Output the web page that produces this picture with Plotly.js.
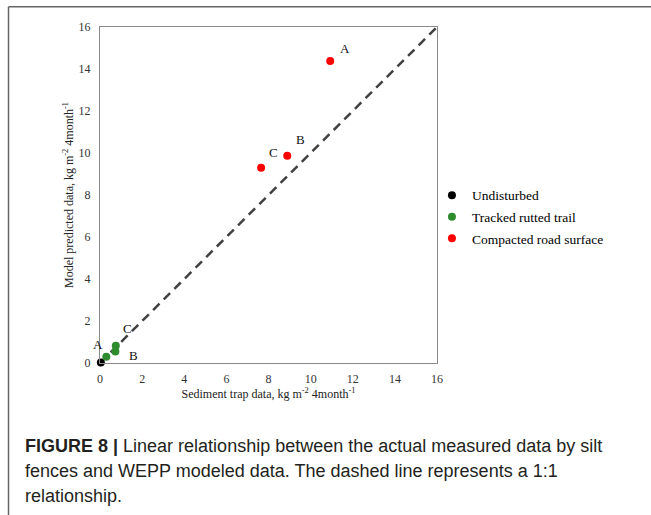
<!DOCTYPE html>
<html>
<head>
<meta charset="utf-8">
<script src="https://cdn.plot.ly/plotly-3.0.1.min.js"></script>
<style>
  html, body { margin: 0; padding: 0; background: #ffffff; }
  #chart { width: 651px; height: 515px; }
</style>
</head>
<body>
<div id="chart"></div>
<script>
// ---- data ----
const seriesNames = ["Undisturbed", "Tracked rutted trail", "Compacted road surface"];

const undisturbedX = [0.04];
const undisturbedY = [0.02];

const trailX = [0.30, 0.73, 0.75];
const trailY = [0.30, 0.55, 0.82];
const trailLabels = ["A", "B", "C"];

const roadX = [10.93, 8.89, 7.65];
const roadY = [14.38, 9.87, 9.30];
const roadLabels = ["A", "B", "C"];

const oneToOneX = [0, 16];
const oneToOneY = [0, 16];

const xTickVals = [0, 2, 4, 6, 8, 10, 12, 14, 16];
const yTickVals = [0, 2, 4, 6, 8, 10, 12, 14, 16];

const xTitle = "Sediment trap data, kg m<sup>-2</sup> 4month<sup>-1</sup>";
const yTitle = "Model predicted data, kg m<sup>-2</sup> 4month<sup>-1</sup>";

const captionLines = [
  "<b>FIGURE 8 |</b> Linear relationship between the actual measured data by silt",
  "fences and WEPP modeled data. The dashed line represents a 1:1",
  "relationship."
];

// ---- styling / positioning (not data) ----
const serif = "Liberation Serif, Times New Roman, serif";
const sans = "Liberation Sans, Arial, Helvetica, sans-serif";
const trailLabelShift = [[-8, 12], [18, -4], [12, 17]];
const roadLabelShift = [[15, 13], [13, 16], [12, 15]];

const traces = [
  {
    x: oneToOneX, y: oneToOneY, type: "scatter", mode: "lines",
    line: { color: "#404040", width: 2.5, dash: "9px,6px" },
    showlegend: false, hoverinfo: "skip"
  },
  {
    x: undisturbedX, y: undisturbedY, type: "scatter", mode: "markers",
    name: seriesNames[0], legendgroup: "g1",
    marker: { color: "#000000", size: 8 }, cliponaxis: false
  },
  {
    x: trailX, y: trailY, type: "scatter", mode: "markers",
    name: seriesNames[1], legendgroup: "g2",
    marker: { color: "#2e8b2e", size: 8 }, cliponaxis: false
  },
  {
    x: roadX, y: roadY, type: "scatter", mode: "markers",
    name: seriesNames[2], legendgroup: "g3",
    marker: { color: "#ff0000", size: 8 }, cliponaxis: false
  }
];

const annotations = [];
trailLabels.forEach((t, i) => annotations.push({
  x: trailX[i], y: trailY[i], xref: "x", yref: "y", text: t, showarrow: false,
  xshift: trailLabelShift[i][0], yshift: trailLabelShift[i][1],
  font: { family: serif, size: 13, color: "#111" }
}));
roadLabels.forEach((t, i) => annotations.push({
  x: roadX[i], y: roadY[i], xref: "x", yref: "y", text: t, showarrow: false,
  xshift: roadLabelShift[i][0], yshift: roadLabelShift[i][1],
  font: { family: serif, size: 13, color: "#111" }
}));
const captionY = [-0.247, -0.3229, -0.3958];
captionLines.forEach((t, i) => annotations.push({
  x: -0.2226, y: captionY[i], xref: "paper", yref: "paper", text: t,
  showarrow: false, xanchor: "left", yanchor: "middle", align: "left", xshift: -2,
  font: { family: sans, size: 18, color: "#231f20" }
}));

const axisCommon = {
  range: [0, 16], showgrid: false, zeroline: false,
  showline: true, linecolor: "#8a8a8a", linewidth: 1, mirror: true,
  ticks: "", fixedrange: true,
  tickfont: { family: serif, size: 12, color: "#333" }
};

const layout = {
  width: 651, height: 515,
  margin: { l: 100, r: 214, t: 27, b: 152 },
  paper_bgcolor: "#ffffff", plot_bgcolor: "#ffffff",
  showlegend: true,
  xaxis: Object.assign({}, axisCommon, {
    tickvals: xTickVals, ticklabelstandoff: 5,
    title: { text: xTitle, standoff: 3, font: { family: serif, size: 12, color: "#222" } }
  }),
  yaxis: Object.assign({}, axisCommon, {
    tickvals: yTickVals, ticklabelstandoff: 6,
    title: { text: yTitle, standoff: 2, font: { family: serif, size: 12, color: "#222" } }
  }),
  legend: {
    x: 0.985, y: 0.545, xanchor: "left", yanchor: "top",
    traceorder: "grouped", tracegroupgap: 1,
    font: { family: serif, size: 13.5, color: "#000" },
    bgcolor: "rgba(0,0,0,0)", borderwidth: 0
  },
  annotations: annotations,
  shapes: [
    { type: "line", xref: "paper", yref: "paper", x0: -0.2715, x1: 1.64, y0: 1.0604, y1: 1.0604,
      line: { color: "#666", width: 1.5 } },
    { type: "line", xref: "paper", yref: "paper", x0: -0.2715, x1: -0.2715, y0: 1.0604, y1: -0.46,
      line: { color: "#666", width: 1.5 } }
  ]
};

Plotly.newPlot("chart", traces, layout, { displayModeBar: false, staticPlot: true });
</script>
</body>
</html>
